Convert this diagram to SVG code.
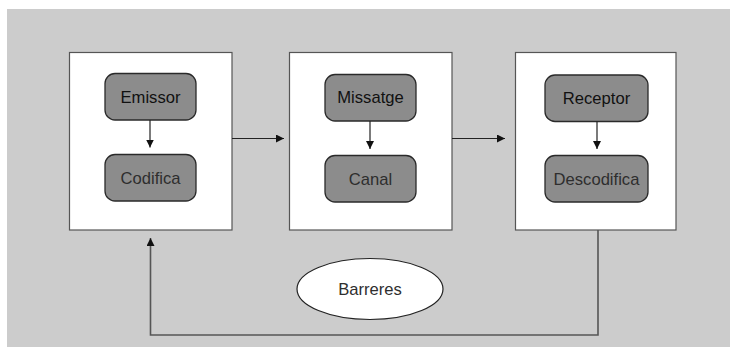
<svg xmlns="http://www.w3.org/2000/svg" width="730" height="347" viewBox="0 0 730 347">
<defs>
<marker id="ah" viewBox="0 0 10 10" refX="10" refY="5" markerWidth="8" markerHeight="8" markerUnits="userSpaceOnUse" orient="auto">
<path d="M0,0 L10,5 L0,10 z" fill="#111"/>
</marker>
<style>
.bg{fill:#cccccc}
.outer{fill:#ffffff;stroke:#555555;stroke-width:1.2}
.inner{fill:#8c8c8c;stroke:#2a2a2a;stroke-width:1.3}
.t1{font-family:"Liberation Sans",Arial,sans-serif;font-size:16.6px;fill:#111111;text-anchor:middle}
.t2{font-family:"Liberation Sans",Arial,sans-serif;font-size:16.6px;fill:#2e2e2e;text-anchor:middle}
.conn{fill:none;stroke:#222222;stroke-width:1.2}
.fb{fill:none;stroke:#555555;stroke-width:1.6}
</style>
</defs>
<rect class="bg" x="7" y="9" width="723" height="338"/>
<g id="box-emissor">
<rect class="outer" x="69.5" y="52.5" width="162.5" height="177.5"/>
</g>
<g id="box-missatge">
<rect class="outer" x="289.5" y="52.5" width="162.5" height="177.5"/>
</g>
<g id="box-receptor">
<rect class="outer" x="515.5" y="52.5" width="160.5" height="177.5"/>
</g>
<g id="emissor">
<rect class="inner" x="105" y="73.5" width="91" height="46.5" rx="10"/>
<text class="t1" x="150.5" y="102.8">Emissor</text>
</g>
<g id="codifica">
<rect class="inner" x="105" y="154.5" width="91" height="46.5" rx="10"/>
<text class="t2" x="150.5" y="183.8">Codifica</text>
</g>
<g id="missatge">
<rect class="inner" x="325" y="74.5" width="91" height="46.5" rx="10"/>
<text class="t1" x="370.5" y="102.5">Missatge</text>
</g>
<g id="canal">
<rect class="inner" x="325" y="155.5" width="91" height="46.5" rx="10"/>
<text class="t2" x="370.5" y="184.8">Canal</text>
</g>
<g id="receptor">
<rect class="inner" x="545" y="75" width="103" height="46.5" rx="10"/>
<text class="t1" x="596.5" y="104.2">Receptor</text>
</g>
<g id="descodifica">
<rect class="inner" x="545" y="155.5" width="103" height="46.5" rx="10"/>
<text class="t2" x="596.5" y="184.8">Descodifica</text>
</g>
<g id="barreres">
<ellipse cx="370" cy="289" rx="73" ry="30.5" fill="#ffffff" stroke="#222222" stroke-width="1.2"/>
<text class="t2" x="370" y="295">Barreres</text>
</g>
<g id="connectors">
<line class="conn" x1="150" y1="120" x2="150" y2="147.5" marker-end="url(#ah)"/>
<line class="conn" x1="370" y1="121" x2="370" y2="149" marker-end="url(#ah)"/>
<line class="conn" x1="597" y1="121.5" x2="597" y2="149" marker-end="url(#ah)"/>
<line class="conn" x1="232" y1="138.5" x2="284" y2="138.5" marker-end="url(#ah)"/>
<line class="conn" x1="452" y1="138.5" x2="505" y2="138.5" marker-end="url(#ah)"/>
<polyline class="fb" points="598,230 598,335 150.5,335 150.5,238" marker-end="url(#ah)"/>
</g>
</svg>
